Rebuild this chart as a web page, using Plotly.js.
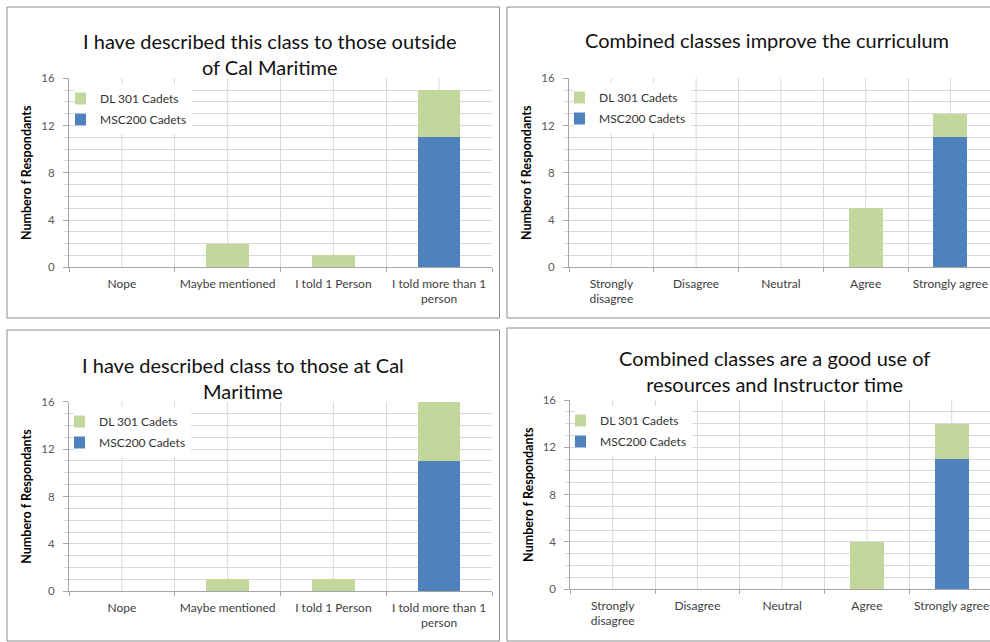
<!DOCTYPE html>
<html><head><meta charset="utf-8">
<script src="https://cdn.plot.ly/plotly-3.0.1.min.js"></script>
<style>body{margin:0;background:#fff}#chart{width:990px;height:642px}</style>
</head><body><div id="chart"></div>
<script>
// ---- data ----
const catsTold = ["Nope", "Maybe mentioned", "I told 1 Person", "I told more than 1<br>person"];
const catsAgree = ["Strongly<br>disagree", "Disagree", "Neutral", "Agree", "Strongly agree"];
const nameMSC = "MSC200 Cadets";
const nameDL = "DL 301 Cadets";
const outsideMSC = [0, 0, 0, 11];
const outsideDL = [0, 2, 1, 4];
const curriculumMSC = [0, 0, 0, 0, 11];
const curriculumDL = [0, 0, 0, 5, 2];
const atCalMSC = [0, 0, 0, 11];
const atCalDL = [0, 1, 1, 5];
const resourcesMSC = [0, 0, 0, 0, 11];
const resourcesDL = [0, 0, 0, 4, 3];
const yTickVals = [0, 4, 8, 12, 16];
const yTitle = "Numbero f Respondants";
const titles = [
  "I have described this class to those outside<br>of Cal Maritime",
  "Combined classes improve the curriculum",
  "I have described class to those at Cal<br>Maritime",
  "Combined classes are a good use of<br>resources and Instructor time"
];

// ---- styling ----
const W = 990, H = 642;
const px = v => v / W, py = v => (H - v) / H;
const blue = "#4F81BD", green = "#C3D69B";
const FONT = "Lato, 'Liberation Sans', sans-serif";
const gridCol = "#D9D9D9", axisCol = "#A6A6A6";

const panels = [
  {cats: catsTold, msc: outsideMSC, dl: outsideDL, xd: [px(69), px(492)], yd: [py(267.3), py(78.3)], xr: [-0.5, 3.5],
   title: {x: px(270), y: py(54.2)}, leg: {x: px(75), y: py(84)}, box: [7, 7, 499.5, 318]},
  {cats: catsAgree, msc: curriculumMSC, dl: curriculumDL, xd: [px(569), 1], yd: [py(267.3), py(78.3)], xr: [-0.5, 4.467],
   title: {x: px(766.5), y: py(40)}, leg: {x: px(574), y: py(83)}, box: [507, 7, 1000, 318]},
  {cats: catsTold, msc: atCalMSC, dl: atCalDL, xd: [px(69), px(492)], yd: [py(591.3), py(401.7)], xr: [-0.5, 3.5],
   title: {x: px(243), y: py(377.8)}, leg: {x: px(74), y: py(407)}, box: [7, 330, 499.5, 641]},
  {cats: catsAgree, msc: resourcesMSC, dl: resourcesDL, xd: [px(570.3), 1], yd: [py(589.3), py(400)], xr: [-0.5, 4.452],
   title: {x: px(774), y: py(370.8)}, leg: {x: px(575), y: py(406)}, box: [507, 328, 1000, 641]}
];

const data = [];
const layout = {
  width: W, height: H, margin: {l: 0, r: 0, t: 0, b: 0},
  paper_bgcolor: "#fff", plot_bgcolor: "#fff",
  barmode: "stack", bargap: 0.6, showlegend: true,
  font: {family: FONT, color: "#404040"},
  annotations: [], shapes: []
};

panels.forEach((p, i) => {
  const n = i === 0 ? "" : String(i + 1);
  const xa = "x" + n, ya = "y" + n;
  const legName = i === 0 ? "legend" : "legend" + (i + 1);
  data.push({type: "bar", name: nameMSC, x: p.cats, y: p.msc, xaxis: xa, yaxis: ya,
    marker: {color: blue}, legend: legName, legendgroup: "m" + i, legendrank: 2, hoverinfo: "skip"});
  data.push({type: "bar", name: nameDL, x: p.cats, y: p.dl, xaxis: xa, yaxis: ya,
    marker: {color: green}, legend: legName, legendgroup: "d" + i, legendrank: 1, hoverinfo: "skip"});

  layout["xaxis" + n] = {
    domain: p.xd, anchor: ya, type: "category", categoryorder: "array", categoryarray: p.cats,
    range: p.xr, tickson: "boundaries", ticks: "outside", ticklen: 4, tickcolor: axisCol,
    showgrid: true, gridcolor: gridCol, showline: true, linecolor: axisCol, zeroline: false,
    ticklabelstandoff: 5,
    tickfont: {size: 12, color: "#404040", family: FONT}, fixedrange: true
  };
  layout["yaxis" + n] = {
    domain: p.yd, anchor: xa, range: [0, 16], tickvals: yTickVals, ticks: "outside", ticklen: 5,
    tickcolor: axisCol, showline: true, linecolor: axisCol, showgrid: true, gridcolor: gridCol,
    zeroline: false, ticklabelstandoff: 6, tickfont: {size: 11.5, color: "#595959", family: FONT},
    minor: {dtick: 1, tick0: 0, showgrid: true, gridcolor: gridCol, ticks: "outside", ticklen: 4, tickcolor: gridCol},
    title: {text: "<b>" + yTitle + "</b>", font: {size: 12.5, color: "#000", family: FONT}, standoff: 6},
    fixedrange: true
  };
  layout[legName] = {
    x: p.leg.x, y: p.leg.y, xanchor: "left", yanchor: "top", xref: "paper", yref: "paper",
    bgcolor: "#fff", borderwidth: 0, traceorder: "grouped", tracegroupgap: 2, indentation: -15,
    font: {size: 12, color: "#333", family: FONT}
  };
  // vertical grid at category centres
  p.cats.forEach(c => {
    layout.shapes.push({type: "line", xref: xa, yref: ya + " domain", x0: c, x1: c, y0: 0, y1: 1,
      line: {color: gridCol, width: 1}, layer: "below"});
  });
  // panel border
  layout.shapes.push({type: "rect", xref: "paper", yref: "paper",
    x0: px(p.box[0]), x1: px(p.box[2]), y0: py(p.box[3]), y1: py(p.box[1]),
    line: {color: "#8C8C8C", width: 1}, fillcolor: "rgba(0,0,0,0)", layer: "above"});
  layout.annotations.push({text: titles[i], xref: "paper", yref: "paper", x: p.title.x, y: p.title.y,
    xanchor: "center", yanchor: "middle", showarrow: false, align: "center",
    font: {size: 20, color: "#111", family: FONT}});
});

Plotly.newPlot("chart", data, layout, {displayModeBar: false, staticPlot: true});
</script>
</body></html>
